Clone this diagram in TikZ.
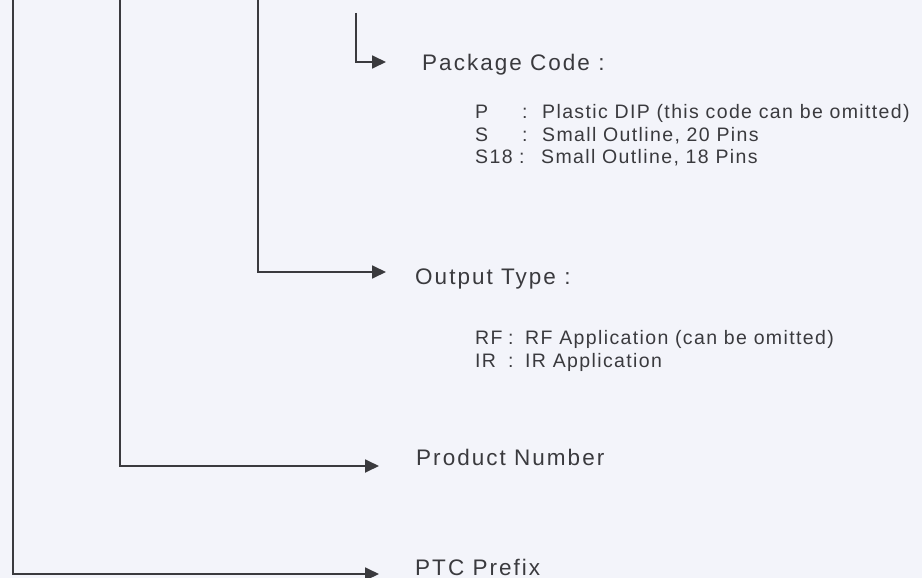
\documentclass[tikz,border=0pt]{standalone}
\usepackage{fontspec}
\setmainfont{Liberation Sans}
\usetikzlibrary{arrows.meta}
\newfontfamily\mainlbl[LetterSpace=9]{Liberation Sans}
\newfontfamily\sublbl[LetterSpace=7]{Liberation Sans}
\definecolor{bg}{HTML}{F3F4FA}
\definecolor{ink}{HTML}{3A3A3E}
\newcommand\kvrow[4]{\makebox[#2pt][l]{#1}\makebox[#3pt][l]{:}#4}
\begin{document}
\begin{tikzpicture}[x=1pt,y=-1pt,
  conn/.style={draw=ink, line width=1.8pt, -{Triangle[length=14pt,width=13pt]}},
  mainlabel/.style={anchor=base west, inner sep=0pt, text=ink, font=\mainlbl\fontsize{22.5}{26}\selectfont},
  sublabel/.style={anchor=base west, inner sep=0pt, text=ink, font=\sublbl\fontsize{19.5}{22}\selectfont}]
\fill[bg] (0,0) rectangle (922,578);
\useasboundingbox (0,0) rectangle (922,578);

% labels
\node[mainlabel] (pkg) at (422,71) {Package Code :};
\node[sublabel] (p) at (475,118) {\kvrow{P}{47}{20}{Plastic DIP (this code can be omitted)}};
\node[sublabel] (s) at (475,141) {\kvrow{S}{47}{20}{Small Outline, 20 Pins}};
\node[sublabel] (s18) at (475,164) {\kvrow{S18}{44}{22}{Small Outline, 18 Pins}};

\node[mainlabel] (out) at (415,284) {Output Type :};
\node[sublabel] (rf) at (475,344) {\kvrow{RF}{33}{17}{RF Application (can be omitted)}};
\node[sublabel] (ir) at (475,367) {\kvrow{IR}{33}{17}{IR Application}};

\node[mainlabel] (prod) at (416,465) {Product Number};
\node[mainlabel] (ptc) at (415,575) {PTC Prefix};

% connector ends
\coordinate (top4) at (356,13);
\coordinate (tip4) at (386,62);
\coordinate (top3) at (258,0);
\coordinate (tip3) at (386,272);
\coordinate (top2) at (120,0);
\coordinate (tip2) at (379,466);
\coordinate (top1) at (13,0);
\coordinate (tip1) at (379,574);

\draw[conn] (top4) |- (tip4);
\draw[conn] (top3) |- (tip3);
\draw[conn] (top2) |- (tip2);
\draw[conn] (top1) |- (tip1);
\end{tikzpicture}
\end{document}
